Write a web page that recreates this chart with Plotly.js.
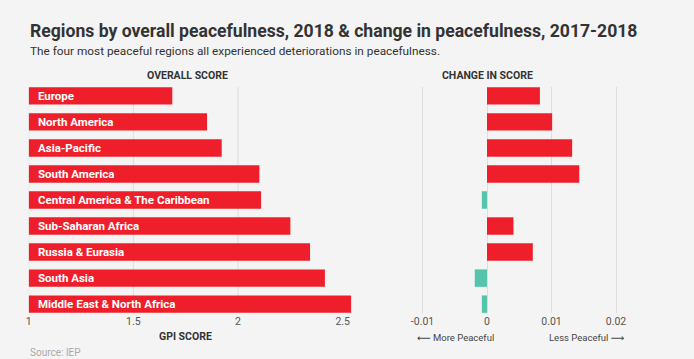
<!DOCTYPE html>
<html>
<head>
<meta charset="utf-8">
<script src="https://cdn.plot.ly/plotly-3.0.1.min.js"></script>
<style>html,body{margin:0;padding:0;background:#f4f4f4;}#chart{width:694px;height:359px;}</style>
</head>
<body>
<div id="chart"></div>
<script>
const regions = ["Europe", "North America", "Asia-Pacific", "South America", "Central America & The Caribbean", "Sub-Saharan Africa", "Russia & Eurasia", "South Asia", "Middle East & North Africa"];
const overallScore = [1.686, 1.852, 1.922, 2.102, 2.110, 2.250, 2.344, 2.415, 2.540];
const scoreChange = [0.0082, 0.0101, 0.0132, 0.0143, -0.0008, 0.0041, 0.0071, -0.0019, -0.0008];
const leftTicks = [1, 1.5, 2, 2.5];
const leftTickText = ["1", "1.5", "2", "2.5"];
const leftGrid = [1, 1.5, 2];
const rightTicks = [-0.01, 0, 0.01, 0.02];
const rightTickText = ["-0.01", "0", "0.01", "0.02"];

const RED = "#ee1f2b";
const TEAL = "#55c4aa";
const W = 694;
const px = v => v / W;

const tickFont = {family: "Roboto, sans-serif", size: 10.5, color: "#555555"};
const boldFont = {family: "Roboto, sans-serif", size: 10.5, color: "#333333", weight: 700};

const traces = [
  {
    type: "bar", orientation: "h", x: overallScore.map(v => v - 1), base: 1, y: regions,
    xaxis: "x", yaxis: "y", marker: {color: RED}, hoverinfo: "skip"
  },
  {
    type: "bar", orientation: "h", x: scoreChange, y: regions,
    xaxis: "x2", yaxis: "y2",
    marker: {color: scoreChange.map(v => v >= 0 ? RED : TEAL)}, hoverinfo: "skip"
  }
];

const ann = [];
ann.push({xref: "paper", yref: "paper", x: px(28), y: 1, xanchor: "left", yanchor: "middle",
  yshift: 87 - 31, text: "<b>Regions by overall peacefulness, 2018 &amp; change in peacefulness, 2017-2018</b>",
  showarrow: false, font: {family: "Roboto, sans-serif", size: 17.6, color: "#333333"}});
ann.push({xref: "paper", yref: "paper", x: px(28), y: 1, xanchor: "left", yanchor: "middle",
  yshift: 87 - 51, text: "The four most peaceful regions all experienced deteriorations in peacefulness.",
  showarrow: false, font: {family: "Roboto, sans-serif", size: 11.8, color: "#333333"}});
ann.push({xref: "paper", yref: "paper", x: px(188), y: 1, xanchor: "center", yanchor: "middle",
  yshift: 87 - 75, text: "OVERALL SCORE", showarrow: false, font: boldFont});
ann.push({xref: "x2", yref: "paper", x: 0, y: 1, xanchor: "center", yanchor: "middle",
  yshift: 87 - 75, text: "CHANGE IN SCORE", showarrow: false, font: boldFont});
ann.push({xref: "paper", yref: "paper", x: px(185), y: 0, xanchor: "center", yanchor: "middle",
  yshift: 313 - 336, text: "GPI SCORE", showarrow: false, font: boldFont});
ann.push({xref: "paper", yref: "paper", x: px(28), y: 0, xanchor: "left", yanchor: "middle",
  yshift: 313 - 352, text: "Source: IEP", showarrow: false,
  font: {family: "Roboto, sans-serif", size: 10, color: "#aaaaaa"}});
ann.push({xref: "paper", yref: "paper", x: px(415), y: 0, xanchor: "left", yanchor: "middle",
  yshift: 313 - 337, text: "⟵ More Peaceful", showarrow: false,
  font: {family: "Roboto, DejaVu Sans, sans-serif", size: 9.5, color: "#444444"}});
ann.push({xref: "paper", yref: "paper", x: px(627), y: 0, xanchor: "right", yanchor: "middle",
  yshift: 313 - 337, text: "Less Peaceful ⟶", showarrow: false,
  font: {family: "Roboto, DejaVu Sans, sans-serif", size: 9.5, color: "#444444"}});
regions.forEach(r => ann.push({xref: "x", yref: "y", x: 1, y: r, xanchor: "left", yanchor: "middle",
  xshift: 7, text: "<b>" + r + "</b>", showarrow: false,
  font: {family: "Roboto, sans-serif", size: 11.5, color: "#ffffff"}}));

const shapes = leftGrid.map(v => ({type: "line", xref: "x", yref: "paper", x0: v, x1: v, y0: 0, y1: 1,
  layer: "below", line: {color: "#dddddd", width: 1}}));

const layout = {
  width: 694, height: 359,
  paper_bgcolor: "#f4f4f4", plot_bgcolor: "#f4f4f4",
  margin: {l: 0, r: 0, t: 87, b: 46},
  showlegend: false,
  bargap: 0.33,
  xaxis: {domain: [px(28.7), px(356)], range: [1, 2.5635], tickvals: leftTicks, ticktext: leftTickText,
    showgrid: false, zeroline: false, showline: false, ticks: "", tickfont: tickFont, fixedrange: true},
  yaxis: {domain: [0, 1], range: [8.34, -0.34], showticklabels: false, showgrid: false, zeroline: false, ticks: ""},
  xaxis2: {domain: [px(410), px(650)], range: [-0.01194, 0.02527], tickvals: rightTicks, ticktext: rightTickText,
    showgrid: true, gridcolor: "#dddddd", gridwidth: 1, zeroline: false, showline: false, ticks: "",
    tickfont: tickFont, anchor: "y2"},
  yaxis2: {domain: [0, 1], range: [8.34, -0.34], showticklabels: false, showgrid: false, zeroline: false,
    ticks: "", anchor: "x2"},
  annotations: ann,
  shapes: shapes
};

Plotly.newPlot("chart", traces, layout, {displayModeBar: false, staticPlot: true});
</script>
</body>
</html>
